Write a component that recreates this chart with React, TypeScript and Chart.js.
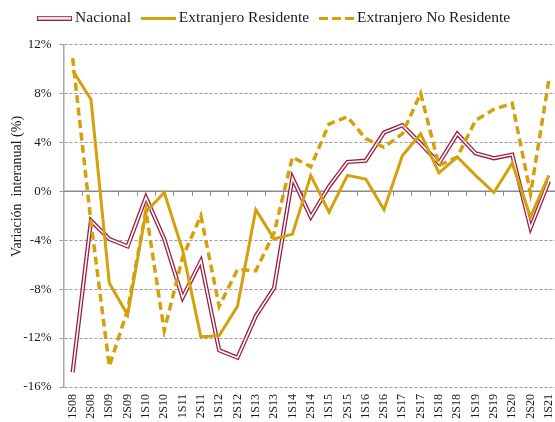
import React, { useEffect, useRef } from 'react';
import { Chart, registerables } from 'chart.js';

Chart.register(...registerables);

const labels = ['1S08','2S08','1S09','2S09','1S10','2S10','1S11','2S11','1S12','2S12','1S13','2S13','1S14','2S14','1S15','2S15','1S16','2S16','1S17','2S17','1S18','2S18','1S19','2S19','1S20','2S20','1S21'];
const nacional = [-14.8, -2.4, -3.9, -4.5, -0.5, -3.9, -8.7, -5.7, -13.0, -13.6, -10.2, -7.9, 1.1, -2.1, 0.4, 2.4, 2.5, 4.8, 5.4, 3.9, 2.3, 4.7, 3.1, 2.7, 3.0, -3.0, 0.8];
const residente = [9.9, 7.5, -7.5, -10.1, -1.7, -0.1, -4.8, -11.9, -11.8, -9.4, -1.5, -3.9, -3.5, 1.3, -1.7, 1.3, 1.0, -1.5, 2.9, 4.7, 1.5, 2.8, 1.3, -0.1, 2.3, -2.1, 1.3];
const noResidente = [10.9, -2.5, -14.3, -9.7, -1.6, -11.4, -5.4, -2.0, -9.4, -6.4, -6.5, -3.4, 2.8, 2.0, 5.5, 6.1, 4.3, 3.6, 4.7, 8.0, 2.1, 2.8, 5.8, 6.7, 7.2, -0.2, 9.1];
const seriesNames = ['Nacional', 'Extranjero Residente', 'Extranjero No Residente'];
const yMin = -16;
const yMax = 12;
const yStep = 4;
const yTitle = 'Variación  interanual (%)';

const RED = '#9E1D40';
const GOLD = '#D4A00C';
const TEXT = '#1a1a1a';
const FONT = '"Liberation Serif", "Times New Roman", serif';

function legendImage(kind: string): HTMLCanvasElement {
  const c = document.createElement('canvas');
  c.width = 35;
  c.height = kind === 'nac' ? 5 : 3;
  const ctx = c.getContext('2d')!;
  if (kind === 'nac') {
    ctx.fillStyle = RED;
    ctx.fillRect(0, 0, 35, 5);
    ctx.fillStyle = '#ffffff';
    ctx.fillRect(1, 1.2, 33, 2.6);
  } else if (kind === 'solid') {
    ctx.fillStyle = GOLD;
    ctx.fillRect(0, 0, 35, 3);
  } else {
    ctx.fillStyle = GOLD;
    ctx.fillRect(0, 0, 9, 3);
    ctx.fillRect(13, 0, 9, 3);
    ctx.fillRect(26, 0, 9, 3);
  }
  return c;
}

export default function App() {
  const ref = useRef<HTMLCanvasElement | null>(null);

  useEffect(() => {
    if (!ref.current) return;
    const imgs = [legendImage('nac'), legendImage('solid'), legendImage('dash')];

    const extras = {
      id: 'extras',
      beforeInit(chart: any) {
        const orig = chart.legend.fit;
        chart.legend.fit = function () {
          orig.call(this);
          this.height += 8.5;
        };
      },
      afterLayout(chart: any) {
        chart.legend.left -= 3;
        chart.legend.right -= 3;
      },
      beforeDatasetsDraw(chart: any) {
        const { ctx, chartArea, scales } = chart;
        const x = scales.x;
        const y = scales.y;
        const y0 = y.getPixelForValue(0);
        ctx.save();
        ctx.strokeStyle = '#8a8a8a';
        ctx.lineWidth = 1.5;
        ctx.beginPath();
        ctx.moveTo(chartArea.left, y0);
        ctx.lineTo(chartArea.right, y0);
        ctx.stroke();
        ctx.lineWidth = 1;
        ctx.beginPath();
        for (let i = 0; i < labels.length - 1; i++) {
          const xb = Math.round((x.getPixelForValue(i) + x.getPixelForValue(i + 1)) / 2) + 0.5;
          ctx.moveTo(xb, y0);
          ctx.lineTo(xb, y0 + 4.5);
        }
        ctx.stroke();
        ctx.restore();
      },
      afterDraw(chart: any) {
        const { ctx } = chart;
        ctx.save();
        ctx.font = '14px ' + FONT;
        ctx.fillStyle = TEXT;
        ctx.textAlign = 'center';
        ctx.textBaseline = 'middle';
        ctx.translate(17, 186.5);
        ctx.rotate(-Math.PI / 2);
        ctx.fillText(yTitle, 0, 0);
        ctx.restore();
      },
    };

    const chart = new Chart(ref.current, {
      type: 'line',
      data: {
        labels,
        datasets: [
          { label: seriesNames[0], data: nacional, borderColor: RED, borderWidth: 4.2, pointRadius: 0, tension: 0, order: 4 },
          { label: seriesNames[1], data: residente, borderColor: GOLD, borderWidth: 3, pointRadius: 0, tension: 0, order: 1 },
          { label: seriesNames[2], data: noResidente, borderColor: GOLD, borderWidth: 3.5, borderDash: [8, 4.5], pointRadius: 0, tension: 0, order: 0 },
          { label: 'nac-inner', data: nacional, borderColor: '#ffffff', borderWidth: 1.6, pointRadius: 0, tension: 0, order: 3 },
        ],
      },
      options: {
        animation: false,
        responsive: false,
        maintainAspectRatio: false,
        layout: { padding: { left: 0, right: 2, top: -4, bottom: 0 } },
        plugins: {
          tooltip: { enabled: false },
          legend: {
            position: 'top',
            onClick: () => {},
            labels: {
              usePointStyle: true,
              pointStyleWidth: 25.5,
              padding: 14.5,
              color: TEXT,
              font: { family: FONT, size: 15.5 },
              generateLabels: () =>
                seriesNames.map((name, i) => ({
                  text: name,
                  pointStyle: imgs[i] as any,
                  datasetIndex: i,
                  hidden: false,
                  fillStyle: i === 0 ? RED : GOLD,
                  strokeStyle: i === 0 ? RED : GOLD,
                  lineWidth: 0,
                  fontColor: TEXT,
                })),
            },
          },
        },
        scales: {
          x: {
            type: 'category',
            offset: true,
            grid: { display: false, drawTicks: false },
            border: { display: false },
            afterFit: (s: any) => { s.height = 35; s.paddingLeft = 0; s.paddingRight = 0; },
            ticks: {
              autoSkip: false,
              minRotation: 90,
              maxRotation: 90,
              padding: 7,
              color: TEXT,
              font: { family: FONT, size: 12 },
            },
          },
          y: {
            min: yMin,
            max: yMax,
            afterFit: (s: any) => { s.width = 63.5; s.paddingTop = 0; s.paddingBottom = 0; },
            ticks: {
              stepSize: yStep,
              padding: 8,
              color: TEXT,
              font: { family: FONT, size: 13 },
              callback: (v: any) => v + '%',
            },
            grid: {
              color: '#9a9a9a',
              lineWidth: 1,
              drawTicks: true,
              tickLength: 4,
              tickColor: '#9a9a9a',
            },
            border: { display: true, color: '#a8a8a8', width: 1.5, dash: [3, 2] },
          },
        },
      },
      plugins: [extras],
    });
    return () => chart.destroy();
  }, []);

  return (
    <div style={{ position: 'fixed', left: 0, top: 0, width: 555, height: 422, overflow: 'hidden', background: '#fff' }}>
      <canvas ref={ref} width={560} height={422} style={{ width: 560, height: 422, display: 'block' }} />
    </div>
  );
}
